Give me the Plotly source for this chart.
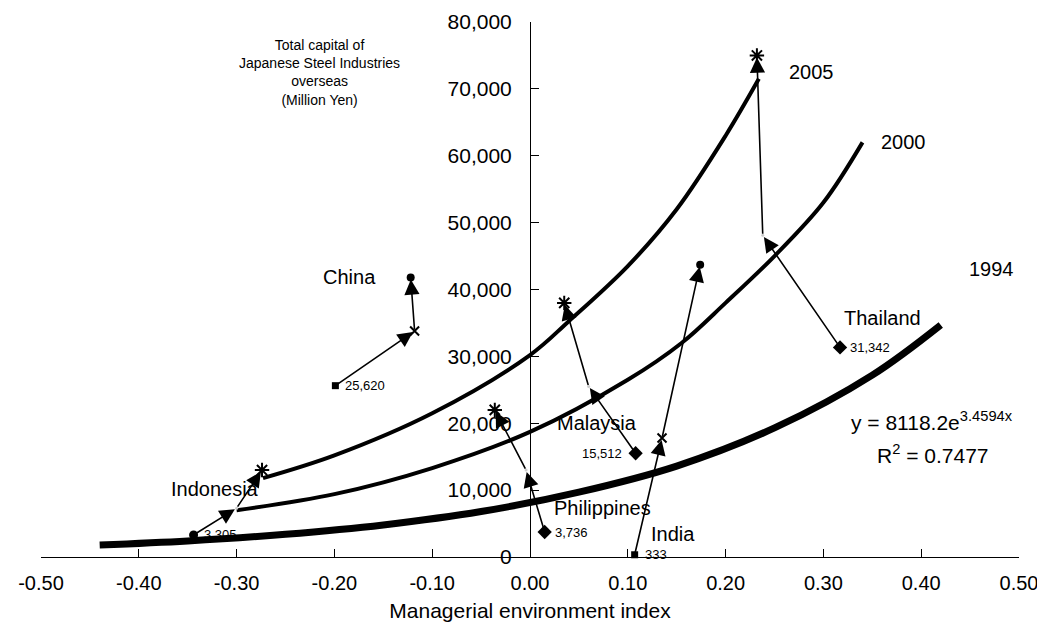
import plotly.graph_objects as go

# ---------------- data ----------------
countries = ["Indonesia", "China", "Philippines", "India", "Malaysia", "Thailand"]
x1994 = [-0.344, -0.199, 0.015, 0.107, 0.108, 0.317]
y1994 = [3305, 25620, 3736, 333, 15512, 31342]
x2000 = [-0.300, -0.118, -0.004, 0.135, 0.060, 0.238]
y2000 = [7300, 33800, 13000, 17800, 25500, 48100]
x2005 = [-0.274, -0.122, -0.036, 0.174, 0.035, 0.232]
y2005 = [13000, 41800, 22000, 43700, 38000, 75000]

# curves
curve1994_x = [-0.44, -0.35, -0.25, -0.15, -0.05, 0.05, 0.15, 0.25, 0.35, 0.42]
curve1994_y = [1800, 2400, 3400, 4800, 6800, 9700, 13600, 19300, 27200, 34700]
curve2000_x = [-0.30, -0.20, -0.10, 0.00, 0.10, 0.155, 0.20, 0.25, 0.30, 0.34]
curve2000_y = [7000, 9400, 13300, 18700, 26500, 32000, 38000, 45000, 53000, 62000]
curve2005_x = [-0.273, -0.20, -0.10, 0.00, 0.04, 0.10, 0.15, 0.20, 0.234]
curve2005_y = [11800, 15200, 21500, 30200, 35300, 43500, 52000, 63000, 71500]

x_tick_vals = [-0.5, -0.4, -0.3, -0.2, -0.1, 0.0, 0.1, 0.2, 0.3, 0.4, 0.5]
x_tick_labels = ["-0.50", "-0.40", "-0.30", "-0.20", "-0.10", "0.00",
                 "0.10", "0.20", "0.30", "0.40", "0.50"]
y_tick_vals = [0, 10000, 20000, 30000, 40000, 50000, 60000, 70000, 80000]
y_tick_labels = ["0", "10,000", "20,000", "30,000", "40,000", "50,000",
                 "60,000", "70,000", "80,000"]

trend_equation = "y = 8118.2e<sup>3.4594x</sup>"
trend_r2 = "R<sup>2</sup> = 0.7477"

# ---------------- styles ----------------
FONT = "Liberation Sans"
style1994 = {"Indonesia": "circle", "China": "square", "Philippines": "diamond",
             "India": "square", "Malaysia": "diamond", "Thailand": "diamond"}
size1994 = {"circle": 9, "square": 7, "diamond": 11}
style2000 = {"China": "x-thin", "India": "x-thin"}
style2005 = {"China": "circle", "India": "circle"}

# label positions (data coords) for country names
label_pos = {"China": (-0.185, 41800), "Indonesia": (-0.322, 10200),
             "Malaysia": (0.068, 20000), "Philippines": (0.074, 7300),
             "India": (0.146, 3400), "Thailand": (0.360, 35700)}
value_side = {"Indonesia": "right", "China": "right", "Philippines": "right",
              "India": "right", "Malaysia": "left", "Thailand": "right"}

fig = go.Figure()

# curves
fig.add_trace(go.Scatter(x=curve1994_x, y=curve1994_y, mode="lines",
                         line=dict(color="black", width=7, shape="spline"),
                         hoverinfo="skip", showlegend=False))
fig.add_trace(go.Scatter(x=curve2000_x, y=curve2000_y, mode="lines",
                         line=dict(color="black", width=4, shape="spline"),
                         hoverinfo="skip", showlegend=False))
fig.add_trace(go.Scatter(x=curve2005_x, y=curve2005_y, mode="lines",
                         line=dict(color="black", width=4, shape="spline"),
                         hoverinfo="skip", showlegend=False))

# 1994 markers
for i, c in enumerate(countries):
    sym = style1994[c]
    fig.add_trace(go.Scatter(x=[x1994[i]], y=[y1994[i]], mode="markers",
                             marker=dict(symbol=sym, size=size1994[sym], color="black"),
                             cliponaxis=False, showlegend=False))
# 2000 markers
for i, c in enumerate(countries):
    if c in style2000:
        m = dict(symbol="x-thin", size=9, color="black", line=dict(width=2, color="black"))
    else:
        m = dict(symbol="circle", size=3, color="#cccccc")
    fig.add_trace(go.Scatter(x=[x2000[i]], y=[y2000[i]], mode="markers",
                             marker=m, showlegend=False))
# 2005 markers
for i, c in enumerate(countries):
    if c in style2005:
        m = dict(symbol="circle", size=8, color="black")
    else:
        m = dict(symbol="asterisk-open", size=12, color="black",
                 line=dict(width=2, color="black"))
    fig.add_trace(go.Scatter(x=[x2005[i]], y=[y2005[i]], mode="markers",
                             marker=m, showlegend=False))

annotations = []
# arrows 1994 -> 2000 -> 2005
for i, c in enumerate(countries):
    for (xa, ya, xb, yb) in [(x1994[i], y1994[i], x2000[i], y2000[i]),
                             (x2000[i], y2000[i], x2005[i], y2005[i])]:
        annotations.append(dict(x=xb, y=yb, ax=xa, ay=ya, xref="x", yref="y",
                                axref="x", ayref="y", text="", showarrow=True,
                                arrowhead=2, arrowsize=1.9, arrowwidth=1.6,
                                arrowcolor="black", standoff=2))
# country names
for c in countries:
    lx, ly = label_pos[c]
    annotations.append(dict(x=lx, y=ly, xref="x", yref="y", text=c, showarrow=False,
                            font=dict(family=FONT, size=20, color="black")))
# 1994 value labels
for i, c in enumerate(countries):
    right = value_side[c] == "right"
    annotations.append(dict(x=x1994[i], y=y1994[i], xref="x", yref="y",
                            text=f"{y1994[i]:,}", showarrow=False,
                            xanchor="left" if right else "right",
                            xshift=8 if right else -12,
                            font=dict(family=FONT, size=13, color="black")))
# curve year labels
for txt, lx, ly in [("2005", 0.288, 72500), ("2000", 0.382, 62000), ("1994", 0.472, 43000)]:
    annotations.append(dict(x=lx, y=ly, xref="x", yref="y", text=txt, showarrow=False,
                            font=dict(family=FONT, size=20, color="black")))
# equation
annotations.append(dict(x=0.326, y=20300, xref="x", yref="y", text=trend_equation,
                        showarrow=False, xanchor="left",
                        font=dict(family=FONT, size=21, color="black")))
annotations.append(dict(x=0.353, y=15400, xref="x", yref="y", text=trend_r2,
                        showarrow=False, xanchor="left",
                        font=dict(family=FONT, size=21, color="black")))
# y axis title block
annotations.append(dict(x=-0.215, y=72400, xref="x", yref="y",
                        text="Total capital of<br>Japanese Steel Industries<br>overseas<br>(Million Yen)",
                        showarrow=False, align="center",
                        font=dict(family=FONT, size=14, color="black")))

# the page body has an 8px margin on every side, so the figure is 16px smaller
fig.update_layout(
    width=1029, height=615,
    margin=dict(l=33, r=18, t=14, b=66),
    paper_bgcolor="white", plot_bgcolor="white",
    showlegend=False,
    annotations=annotations,
    font=dict(family=FONT, color="black"),
    xaxis=dict(range=[-0.5, 0.5], tickvals=x_tick_vals, ticktext=x_tick_labels,
               ticks="inside", ticklen=8, tickcolor="black", tickwidth=1, showline=True,
               linecolor="black", linewidth=1, showgrid=False, zeroline=False,
               tickfont=dict(family=FONT, size=20), ticklabelstandoff=8,
               ticklabeloverflow="allow",
               title=dict(text="Managerial environment index", standoff=10,
                          font=dict(family=FONT, size=21)), automargin=False),
    yaxis=dict(range=[0, 80000], tickvals=y_tick_vals, ticktext=y_tick_labels,
               ticks="inside", ticklen=8, tickcolor="black", tickwidth=1, showline=True,
               linecolor="black", linewidth=1, showgrid=False, zeroline=False,
               anchor="free", position=0.5, tickfont=dict(family=FONT, size=21),
               ticklabelstandoff=14, ticklabeloverflow="allow", automargin=False),
)

fig.write_html("out.html")
